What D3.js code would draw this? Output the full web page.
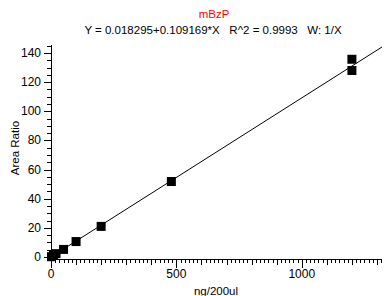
<!DOCTYPE html>
<html><head><meta charset="utf-8">
<script src="https://cdn.jsdelivr.net/npm/d3@7"></script>
<style>body{margin:0;background:#fff}svg{display:block}text{font-family:"Liberation Sans",Arial,sans-serif}</style>
</head><body>
<script>
const title = "mBzP";
const subtitle = "Y = 0.018295+0.109169*X   R^2 = 0.9993   W: 1/X";
const xLabel = "ng/200ul";
const yLabel = "Area Ratio";
const xValues = [2, 10, 20, 50, 100, 200, 480, 1200, 1200];
const yValues = [0.2, 1.1, 2.3, 5.2, 10.6, 21.0, 51.8, 135.7, 128.0];
const fitIntercept = 0.018295;
const fitSlope = 0.109169;
const xTicks = [0, 500, 1000];
const yTicks = [0, 20, 40, 60, 80, 100, 120, 140];

const W = 390, H = 296;
const svg = d3.select("body").append("svg").attr("width", W).attr("height", H);
const x = d3.scaleLinear().domain([0, 1320]).range([51, 382]);
const y = d3.scaleLinear().domain([0, 140]).range([257, 53]);
const xMin = 0, xMax = 1320, yMin = -1.5, yMax = 145.5;

svg.append("text").attr("x", 214).attr("y", 18).attr("text-anchor", "middle")
  .attr("fill", "#ff0000").attr("font-size", 11.5).text(title);
svg.append("text").attr("x", 213).attr("y", 34).attr("text-anchor", "middle")
  .attr("fill", "#000").attr("font-size", 11.5).attr("xml:space","preserve").style("white-space","pre").text(subtitle);

// axes
const g = svg.append("g").attr("stroke", "#000").attr("stroke-width", 1).attr("shape-rendering", "crispEdges");
const x0 = Math.round(x(xMin)) + 0.5, yb = Math.round(y(yMin)) + 0.5;
g.append("line").attr("x1", x0).attr("x2", x0).attr("y1", y(yMax)).attr("y2", yb + 3);
g.append("line").attr("x1", x0).attr("x2", x(xMax)).attr("y1", yb).attr("y2", yb);

// y ticks
d3.range(0, 146, 5).forEach(v => {
  const major = v % 20 === 0;
  const yy = Math.round(y(v)) + 0.5;
  g.append("line").attr("x1", x0 - (major ? 8 : 5)).attr("x2", x0).attr("y1", yy).attr("y2", yy);
});
// x ticks
d3.range(0, 1321, 500 / 30).forEach(v => {
  const r = Math.round(v);
  const major = r % 500 === 0, mid = r % 100 === 0;
  const xx = Math.round(x(v)) + 0.5;
  g.append("line").attr("x1", xx).attr("x2", xx).attr("y1", yb).attr("y2", yb + (major ? 8 : mid ? 5 : 3));
});

svg.append("g").selectAll("text").data(yTicks).join("text")
  .attr("x", 41).attr("y", d => y(d) + 4).attr("text-anchor", "end")
  .attr("font-size", 12).text(d => d);
svg.append("g").selectAll("text").data(xTicks).join("text")
  .attr("x", d => x(d)).attr("y", yb + 18).attr("text-anchor", "middle")
  .attr("font-size", 12).text(d => d);

svg.append("text").attr("transform", "translate(19,148) rotate(-90)").attr("text-anchor", "middle")
  .attr("font-size", 11.5).text(yLabel);
svg.append("text").attr("x", 216).attr("y", 295).attr("text-anchor", "middle")
  .attr("font-size", 11.5).text(xLabel);

// fit line
svg.append("line").attr("x1", x(0)).attr("y1", y(fitIntercept))
  .attr("x2", x(xMax)).attr("y2", y(fitIntercept + fitSlope * xMax))
  .attr("stroke", "#000").attr("stroke-width", 1);

// points
const s = 9;
svg.append("g").selectAll("rect").data(xValues.map((v, i) => [v, yValues[i]])).join("rect")
  .attr("x", d => x(d[0]) - s / 2).attr("y", d => y(d[1]) - s / 2)
  .attr("width", s).attr("height", s).attr("fill", "#000");
</script>
</body></html>
